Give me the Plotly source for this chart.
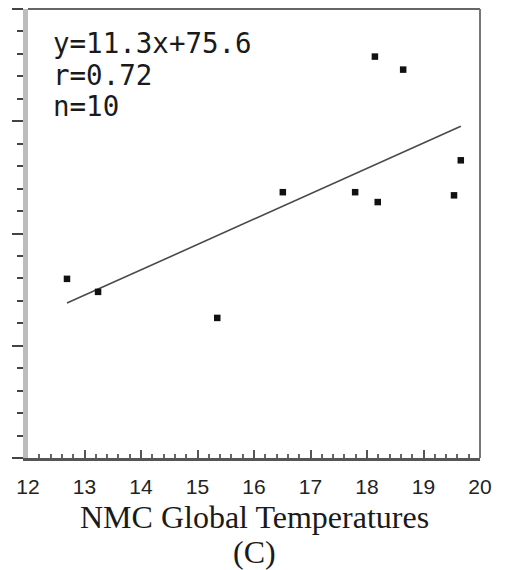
import plotly.graph_objects as go

# Data
temps_c = [12.69, 13.24, 15.35, 16.51, 17.79, 18.19, 18.14, 18.64, 19.54, 19.66]
values = [229.8, 224.0, 212.4, 268.4, 268.4, 264.0, 328.8, 323.0, 267.0, 282.6]
fit_slope = 11.3
fit_intercept = 75.6
stats_lines = ["y=11.3x+75.6", "r=0.72", "n=10"]
x_tick_vals = [12, 13, 14, 15, 16, 17, 18, 19, 20]
x_title_lines = ["NMC Global Temperatures", "(C)"]

fit_x = [min(temps_c), max(temps_c)]
fit_y = [fit_slope * v + fit_intercept for v in fit_x]

fig = go.Figure()
fig.add_trace(go.Scatter(x=fit_x, y=fit_y, mode="lines",
                         line=dict(color="#4a4a4a", width=1.6),
                         hoverinfo="skip", showlegend=False))
fig.add_trace(go.Scatter(x=temps_c, y=values, mode="markers",
                         marker=dict(symbol="square", size=6.5, color="#111"),
                         showlegend=False))

# page body has an 8px offset, so the figure is sized to fit the window
W, H = 499, 562
L, R, T, B = 20, 27, 1, 112

fig.update_layout(
    width=W, height=H,
    margin=dict(l=L, r=R, t=T, b=B),
    paper_bgcolor="white", plot_bgcolor="white",
    xaxis=dict(range=[12, 20], tickvals=x_tick_vals, ticktext=[str(v) for v in x_tick_vals],
               ticks="inside", ticklen=8, tickwidth=2, tickcolor="#555",
               minor=dict(dtick=0.2, ticks="inside", ticklen=4, tickwidth=2, tickcolor="#666"),
               showline=True, linecolor="#555", linewidth=3,
               showgrid=False, zeroline=False,
               tickfont=dict(family="Liberation Sans, Arial", size=21, color="#222"),
               ticklabelstandoff=8),
    yaxis=dict(range=[150, 350], dtick=50, showticklabels=False,
               ticks="outside", ticklen=11, tickwidth=2, tickcolor="#444",
               minor=dict(dtick=10, ticks="outside", ticklen=6, tickwidth=2, tickcolor="#444"),
               showline=True, linecolor="#bdbdbd", linewidth=5,
               showgrid=False, zeroline=False),
    font=dict(family="Liberation Sans, Arial", color="#222"),
)

# top and right frame
fig.add_shape(type="line", xref="paper", yref="paper", x0=0, x1=1, y0=1, y1=1,
              line=dict(color="#666", width=2))
fig.add_shape(type="line", xref="paper", yref="paper", x0=1, x1=1, y0=0, y1=1,
              line=dict(color="#777", width=2))

# stats text
for i, s in enumerate(stats_lines):
    fig.add_annotation(x=12.40, y=335 - i * 14.2, xref="x", yref="y", text=s,
                       showarrow=False, xanchor="left", yanchor="middle",
                       font=dict(family="DejaVu Sans Mono", size=27.5, color="#1a1a1a"))

# x-axis title (two lines)
for i, s in enumerate(x_title_lines):
    fig.add_annotation(x=0.5, y=0, xref="paper", yref="paper", text=s,
                       showarrow=False, xanchor="center", yanchor="middle",
                       yshift=-(517 - 458) - i * 35,
                       font=dict(family="Liberation Serif, Times New Roman", size=32, color="#1a1a1a"))

fig.write_html("out.html")
